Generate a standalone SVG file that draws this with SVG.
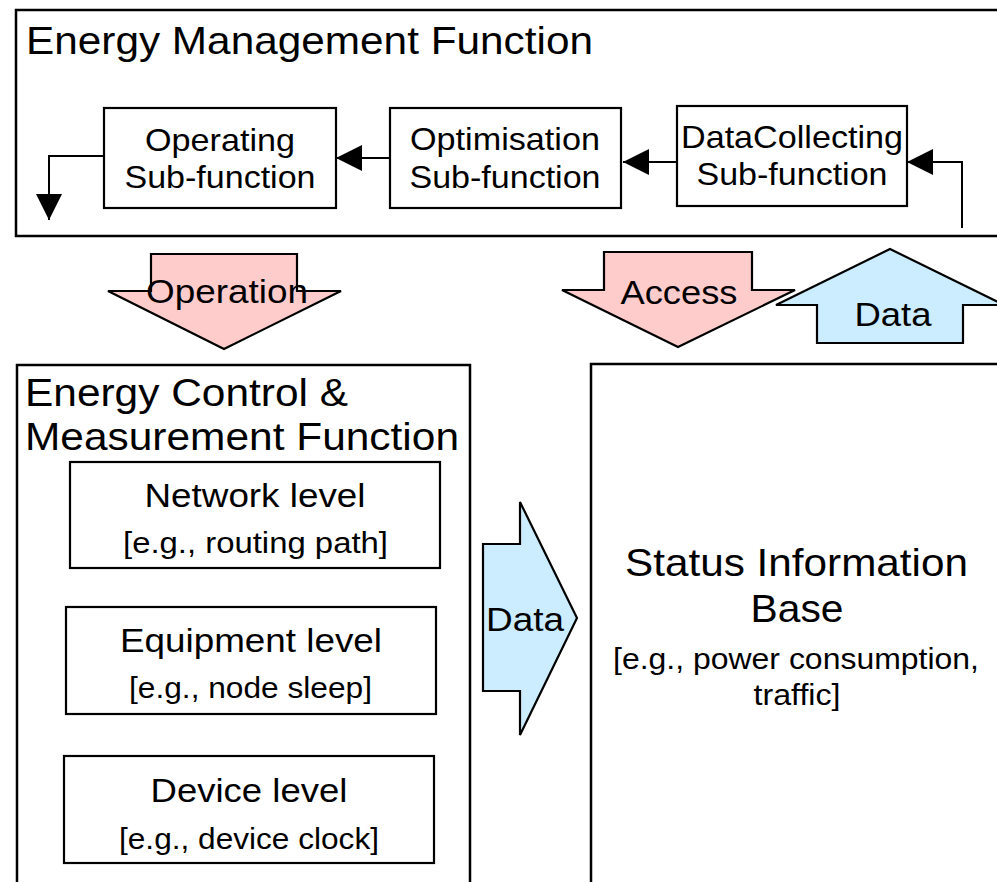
<svg xmlns="http://www.w3.org/2000/svg" width="997" height="882" viewBox="0 0 997 882">
<style>
  text { font-family: "Liberation Sans", Arial, sans-serif; fill: #000; }
  .box { fill: #fff; stroke: #000; stroke-width: 2.2; }
  .frame { fill: none; stroke: #000; stroke-width: 2.5; }
  .conn { fill: none; stroke: #000; stroke-width: 2; }
  .pink { fill: #FFCCCC; stroke: #000; stroke-width: 2.2; stroke-linejoin: miter; }
  .blue { fill: #CCECFF; stroke: #000; stroke-width: 2.2; stroke-linejoin: miter; }
  .t37 { font-size: 39px; }
  .t32 { font-size: 34px; text-anchor: middle; }
  .t30 { font-size: 31.5px; text-anchor: middle; }
  .t28 { font-size: 29.5px; text-anchor: middle; }
</style>
<defs>
  <marker id="ah" viewBox="0 0 26 26" refX="26" refY="13" markerWidth="26" markerHeight="26" markerUnits="userSpaceOnUse" orient="auto">
    <path d="M0,0 L26,13 L0,26 z" fill="#000"/>
  </marker>
</defs>
<rect width="997" height="882" fill="#fff"/>

<g id="energy-management-function">
  <path class="frame" d="M1000,10 H16 V236 H1000"/>
  <text class="t37" x="26" y="54" textLength="567" lengthAdjust="spacingAndGlyphs">Energy Management Function</text>
</g>

<g id="operating-sub-function">
  <rect class="box" x="104" y="108" width="232" height="100"/>
  <text class="t30" x="220" y="151" textLength="150" lengthAdjust="spacingAndGlyphs">Operating</text>
  <text class="t30" x="220" y="188" textLength="191" lengthAdjust="spacingAndGlyphs">Sub-function</text>
</g>

<g id="optimisation-sub-function">
  <rect class="box" x="390" y="108" width="231" height="100"/>
  <text class="t30" x="505" y="150" textLength="190" lengthAdjust="spacingAndGlyphs">Optimisation</text>
  <text class="t30" x="505" y="188" textLength="191" lengthAdjust="spacingAndGlyphs">Sub-function</text>
</g>

<g id="datacollecting-sub-function">
  <rect class="box" x="677" y="106" width="230" height="100"/>
  <text class="t30" x="792" y="148" textLength="222" lengthAdjust="spacingAndGlyphs">DataCollecting</text>
  <text class="t30" x="792" y="185" textLength="191" lengthAdjust="spacingAndGlyphs">Sub-function</text>
</g>

<g id="operation-arrow">
  <polygon class="pink" points="151,254 297,254 297,291 341,291 224,349 108,291 151,291"/>
  <text class="t32" x="227" y="303" textLength="162" lengthAdjust="spacingAndGlyphs">Operation</text>
</g>

<g id="access-arrow">
  <polygon class="pink" points="604,252 752,252 752,290 795,290 678,347 562,290 604,290"/>
  <text class="t32" x="679" y="304" textLength="117" lengthAdjust="spacingAndGlyphs">Access</text>
</g>

<g id="data-up-arrow">
  <polygon class="blue" points="890,249 1004,305 963,305 963,343 817,343 817,305 776,305"/>
  <text class="t32" x="893" y="326" textLength="77" lengthAdjust="spacingAndGlyphs">Data</text>
</g>

<g id="energy-control-measurement-function">
  <path class="frame" d="M17,890 V365 H470 V890"/>
  <text class="t37" x="25" y="406" textLength="323" lengthAdjust="spacingAndGlyphs">Energy Control &amp;</text>
  <text class="t37" x="25" y="450" textLength="434" lengthAdjust="spacingAndGlyphs">Measurement Function</text>
</g>

<g id="network-level">
  <rect class="box" x="70" y="462" width="370" height="106"/>
  <text class="t32" x="255" y="507" textLength="221" lengthAdjust="spacingAndGlyphs">Network level</text>
  <text class="t28" x="255.5" y="553" textLength="265" lengthAdjust="spacingAndGlyphs">[e.g., routing path]</text>
</g>

<g id="equipment-level">
  <rect class="box" x="66" y="607" width="370" height="107"/>
  <text class="t32" x="251" y="652" textLength="262" lengthAdjust="spacingAndGlyphs">Equipment level</text>
  <text class="t28" x="250.5" y="698" textLength="243" lengthAdjust="spacingAndGlyphs">[e.g., node sleep]</text>
</g>

<g id="device-level">
  <rect class="box" x="64" y="756" width="370" height="107"/>
  <text class="t32" x="249" y="802" textLength="197" lengthAdjust="spacingAndGlyphs">Device level</text>
  <text class="t28" x="249" y="849" textLength="260" lengthAdjust="spacingAndGlyphs">[e.g., device clock]</text>
</g>

<g id="data-right-arrow">
  <polygon class="blue" points="483,544 520,544 520,502 577,618 520,735 520,691 483,691"/>
  <text class="t32" x="525" y="631" textLength="78" lengthAdjust="spacingAndGlyphs">Data</text>
</g>

<g id="status-information-base">
  <path class="frame" d="M1000,364 H591 V890"/>
  <text class="t37" style="text-anchor:middle" x="796.5" y="576" textLength="343" lengthAdjust="spacingAndGlyphs">Status Information</text>
  <text class="t37" style="text-anchor:middle" x="797" y="622" textLength="93" lengthAdjust="spacingAndGlyphs">Base</text>
  <text class="t28" x="796" y="669" textLength="366" lengthAdjust="spacingAndGlyphs">[e.g., power consumption,</text>
  <text class="t28" x="797" y="705" textLength="87" lengthAdjust="spacingAndGlyphs">traffic]</text>
</g>

<g id="connectors">
  <path class="conn" d="M390,158 H336" marker-end="url(#ah)"/>
  <path class="conn" d="M677,162 H623" marker-end="url(#ah)"/>
  <path class="conn" d="M962,228 V162 H907" marker-end="url(#ah)"/>
  <path class="conn" d="M104,156 H49 V220" marker-end="url(#ah)"/>
</g>
</svg>
